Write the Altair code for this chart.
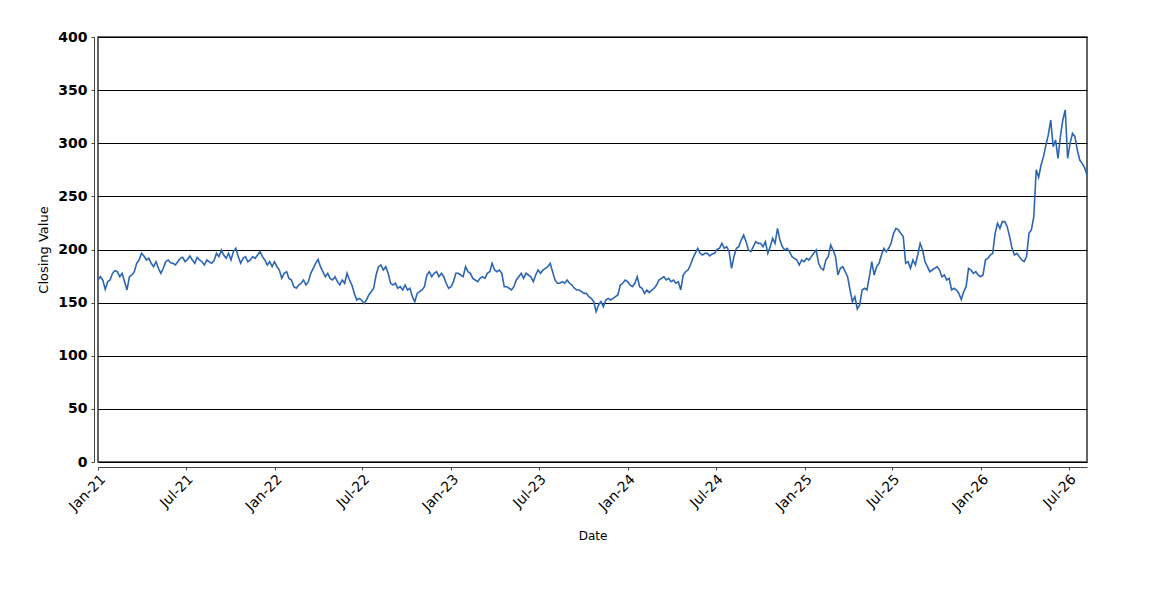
import altair as alt
import pandas as pd

seg_2021 = [171.3, 174.4, 171.3, 162.5, 169.7, 171.3, 177.6, 180.1, 179.1, 174.4,
            177.6, 169.7, 161.9, 174.4, 176.0, 179.1, 187.0, 190.1, 196.4, 193.9,
            190.1, 191.7, 187.0, 183.8, 188.5, 182.3, 177.6, 182.3, 188.5, 190.1,
            187.6, 187.0, 185.4, 188.5, 191.7, 192.6, 188.5, 190.7, 193.9, 190.1,
            187.0, 192.6, 190.1, 188.5, 185.4, 190.1, 188.5, 187.0, 189.5, 196.4,
            193.3, 199.5, 194.8, 191.7, 196.4, 190.1, 198.0, 201.1, 193.3, 187.0,
            191.7, 193.3, 188.5, 190.1, 193.3, 191.7, 194.8, 198.0, 193.3, 190.1,
            185.4, 188.5, 183.8, 188.5, 183.8, 180.7, 172.9]
seg_2022 = [177.6, 179.1, 172.8, 171.3, 165.0, 163.5, 166.6, 168.2, 171.3, 166.6,
            169.7, 177.6, 182.3, 187.0, 190.7, 183.8, 179.1, 174.4, 177.6, 172.8,
            171.3, 174.4, 169.7, 166.6, 171.3, 168.2, 177.6, 171.3, 166.6,
            158.7, 152.5, 154.0, 152.5, 149.3, 152.5, 157.2, 160.3, 163.5, 176.0,
            183.8, 185.4, 180.7, 183.8, 177.6, 168.2, 166.6, 168.2, 163.5,
            165.0, 161.9, 166.6, 161.9, 163.5, 155.6, 150.9, 158.7, 160.3,
            161.9, 165.0, 176.0, 179.1, 174.4, 177.6, 179.1, 174.4, 177.6, 174.4,
            168.2, 163.5, 165.0, 169.7, 177.6, 177.6, 176.0, 174.4]
seg_2023 = [183.8, 179.1, 177.6, 172.8, 171.3, 169.7, 172.8, 174.4, 172.8, 177.6,
            179.1, 187.0, 180.7, 179.1, 180.7, 177.6, 165.0, 165.0, 163.5,
            161.9, 165.0, 171.3, 174.4, 177.6, 172.8, 177.6, 176.0, 174.4, 169.7,
            176.0, 180.7, 177.6, 180.7, 182.3, 183.8, 187.0, 179.1, 171.3, 168.2,
            168.2, 169.7, 168.2, 171.3, 168.2, 166.6, 163.5, 161.9, 161.9,
            160.3, 158.7, 158.7, 155.6, 154.0, 150.9, 141.5, 147.8, 150.9, 146.2,
            152.5, 154.0, 152.5, 154.0, 155.6, 157.2, 166.6, 168.2, 171.3, 169.7,
            166.6, 165.0, 168.2, 174.4, 165.0, 163.5, 158.7]
seg_2024 = [161.9, 159.4, 161.9, 163.5, 166.6, 171.3, 172.9, 174.4, 171.3,
            172.9, 169.7, 171.3, 168.2, 169.7, 161.9, 176.0, 179.1, 180.7, 185.4,
            191.7, 196.4, 201.1, 196.4, 194.8, 196.4, 196.4, 193.9, 195.8,
            196.4, 200.2, 201.1, 205.8, 201.1, 202.7, 198.0, 182.3, 193.3, 201.1,
            202.7, 208.9, 213.6, 207.4, 199.5, 198.0, 202.7, 207.4, 205.8,
            205.8, 202.7, 207.4, 196.4, 202.7, 210.5, 205.8, 219.9, 208.9, 202.7,
            199.5, 201.1, 198.0, 193.3, 191.7, 190.1, 185.4, 190.1, 188.6, 191.7,
            190.1, 193.3, 196.4, 199.5, 187.0, 182.3, 180.7]
seg_2025 = [190.1, 193.3, 204.2, 199.5, 193.3, 176.0, 182.3, 183.9, 179.1,
            174.4, 161.9, 150.9, 155.6, 144.0, 147.8, 161.9, 163.5, 161.9, 174.4,
            188.6, 176.0, 183.9, 187.0, 194.8, 201.1, 198.0, 201.1, 205.8,
            215.2, 219.9, 218.4, 215.2, 212.1, 187.0, 188.6, 182.3, 190.1, 185.4,
            194.8, 205.8, 199.5, 188.6, 183.9, 179.1, 180.7, 182.3, 183.9,
            180.7, 174.4, 176.0, 171.3, 172.9, 161.9, 163.5, 161.9, 158.7,
            153.0, 160.3, 165.0, 182.3, 180.7, 177.6, 179.1, 176.0, 174.4, 176.0,
            190.1, 191.7, 194.8, 196.4, 215.2, 224.6, 219.9, 226.2]
seg_2026 = [226.2, 221.5, 212.1, 201.1, 194.8, 196.4, 193.3, 190.1, 188.6, 193.3,
            215.2, 218.4, 230.9, 275.0, 268.0, 279.5, 287.4, 298.3, 307.8, 321.9,
            296.8, 303.1, 285.8, 306.2, 321.9, 331.3, 285.8, 299.9, 309.3, 306.2,
            293.6, 284.2, 281.1, 277.0, 270.1]

closing = seg_2021 + seg_2022 + seg_2023 + seg_2024 + seg_2025 + seg_2026
dates = pd.date_range("2021-01-01", periods=len(closing), freq="5D")

tick_years = [2021, 2021, 2022, 2022, 2023, 2023, 2024, 2024, 2025, 2025, 2026, 2026]
tick_months = [1, 7, 1, 7, 1, 7, 1, 7, 1, 7, 1, 7]
y_ticks = [0, 50, 100, 150, 200, 250, 300, 350, 400]

df = pd.DataFrame({"date": dates, "close": closing})

x_ticks = [alt.DateTime(year=y, month=m, date=1) for y, m in zip(tick_years, tick_months)]

chart = alt.Chart(df).mark_line(color="#2c66b3", strokeWidth=1.6).encode(
    x=alt.X(
        "date:T",
        title="Date",
        scale=alt.Scale(domain=[alt.DateTime(year=2021, month=1, date=1),
                                alt.DateTime(year=2026, month=8, date=8)]),
        axis=alt.Axis(
            values=x_ticks, format="%b-%y", labelAngle=-45, grid=False,
            offset=5, tickSize=3, labelPadding=2,
            labelFont="DejaVu Sans", labelFontSize=14, labelColor="black",
            titleFont="DejaVu Sans", titleFontSize=12, titleFontWeight="normal",
            titleColor="black", titlePadding=17,
            domainColor="#444", tickColor="#444",
        ),
    ),
    y=alt.Y(
        "close:Q",
        title="Closing Value",
        scale=alt.Scale(domain=[0, 400], nice=False),
        axis=alt.Axis(
            values=y_ticks, grid=True, gridColor="black", gridOpacity=1, gridWidth=1,
            offset=4, tickSize=3, labelPadding=4,
            labelFont="DejaVu Sans", labelFontSize=14, labelFontWeight="bold",
            labelColor="black",
            titleFont="DejaVu Sans", titleFontSize=13, titleFontWeight="normal",
            titleColor="black", titlePadding=7,
            domainColor="#444", tickColor="#444",
        ),
    ),
).properties(
    width=989,
    height=425,
    autosize=alt.AutoSizeParams(type="none"),
    padding={"left": 90, "top": 29, "right": 50, "bottom": 120},
).configure(
    background="white"
).configure_view(
    stroke="#333", strokeWidth=1.5
)

chart.save("out.html", embed_options={"renderer": "svg", "actions": False})
